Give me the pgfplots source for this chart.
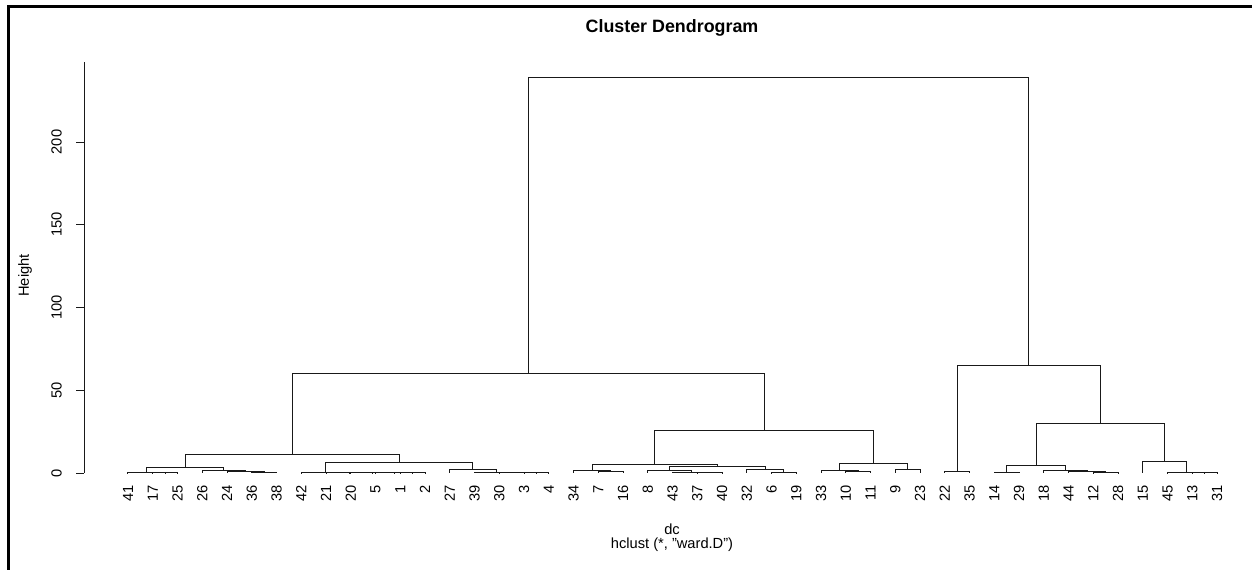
\documentclass[border=0pt]{standalone}
\usepackage{fontspec}
\setmainfont{Liberation Sans}
\usepackage{pgfplots}
\pgfplotsset{compat=1.18}

\tikzset{dend/.style={black!90, line width=0.7pt}}
% one merge: left x, left height, right x, right height, merge height
\newcommand{\merge}[5]{\addplot[dend] coordinates {(#1,#2) (#1,#5) (#3,#5) (#3,#4)};}

\begin{document}
\begin{tikzpicture}
\begin{axis}[
  at={(0,0)}, anchor=south west,
  scale only axis, width=882.15pt, height=308.08pt,
  xmin=-0.76, xmax=46.76, ymin=0, ymax=248.2,
  axis x line*=bottom, axis y line*=left,
  x axis line style={draw=none},
  y axis line style={black!90, line width=0.7pt},
  xtick={1,...,45},
  xticklabels={41,17,25,26,24,36,38,42,21,20,5,1,2,27,39,30,3,4,34,7,16,8,43,37,40,32,6,19,33,10,11,9,23,22,35,14,29,18,44,12,28,15,45,13,31},
  x tick style={draw=none},
  ytick={0,50,100,150,200},
  y tick style={black!90, line width=0.7pt},
  tick align=outside, major tick length=6pt,
  xticklabel style={rotate=90, anchor=east, inner sep=0pt},
  yticklabel style={rotate=90, anchor=south, inner sep=0pt},
  yticklabel shift=10.8pt,
  xticklabel shift=3.3pt,
  tick label style={font=\fontsize{11}{13}\selectfont},
  /pgf/number format/assume math mode=true,
  clip=false,
]
% group 41 ... 38
\merge{2}{0}{3}{0}{0.1}
\merge{1}{0}{2.5}{0.1}{0.3}
\merge{6}{0}{7}{0}{0.4}
\merge{5}{0}{6.5}{0.4}{1.0}
\merge{4}{0}{5.75}{1.0}{1.5}
\merge{1.75}{0.3}{4.875}{1.5}{3.2}
% group 42 ... 4
\merge{12}{0}{13}{0}{0.05}
\merge{11}{0}{12.5}{0.05}{0.1}
\merge{10}{0}{11.75}{0.1}{0.15}
\merge{9}{0}{10.875}{0.15}{0.2}
\merge{8}{0}{9.9375}{0.2}{0.3}
\merge{17}{0}{18}{0}{0.05}
\merge{16}{0}{17.5}{0.05}{0.1}
\merge{15}{0}{16.75}{0.1}{0.4}
\merge{14}{0}{15.875}{0.4}{2.0}
\merge{8.96875}{0.3}{14.9375}{2.0}{6.6}
\merge{3.3125}{3.2}{11.953125}{6.6}{11.0}
% middle group 34 ... 23
\merge{20}{0}{21}{0}{0.9}
\merge{19}{0}{20.5}{0.9}{1.5}
\merge{24}{0}{25}{0}{0.1}
\merge{23}{0}{24.5}{0.1}{0.6}
\merge{22}{0}{23.75}{0.6}{1.5}
\merge{27}{0}{28}{0}{0.3}
\merge{26}{0}{27.5}{0.3}{2.2}
\merge{22.875}{1.5}{26.75}{2.2}{4.2}
\merge{19.75}{1.5}{24.8125}{4.2}{5.2}
\merge{30}{0}{31}{0}{0.9}
\merge{29}{0}{30.5}{0.9}{1.5}
\merge{32}{0}{33}{0}{2.1}
\merge{29.75}{1.5}{32.5}{2.1}{6.0}
\merge{22.28125}{5.2}{31.125}{6.0}{25.4}
\merge{7.6328125}{11.0}{26.703125}{25.4}{60.4}
% right group 22 ... 31
\merge{34}{0}{35}{0}{0.8}
\merge{36}{0}{37}{0}{0.6}
\merge{40}{0}{41}{0}{0.1}
\merge{39}{0}{40.5}{0.1}{0.9}
\merge{38}{0}{39.75}{0.9}{1.4}
\merge{36.5}{0.6}{38.875}{1.4}{4.6}
\merge{44}{0}{45}{0}{0.05}
\merge{43}{0}{44.5}{0.05}{0.1}
\merge{42}{0}{43.75}{0.1}{7.1}
\merge{37.6875}{4.6}{42.875}{7.1}{30.2}
\merge{34.5}{0.8}{40.28125}{30.2}{64.7}
% root
\merge{17.16796875}{60.4}{37.390625}{64.7}{238.7}
\end{axis}

\node[font=\bfseries\fontsize{13.4}{15}\selectfont] at (440.7pt,334.1pt) {Cluster Dendrogram};
\node[font=\fontsize{11}{13}\selectfont] at (440.7pt,-42pt) {dc};
\node[font=\fontsize{11}{13}\selectfont] at (440.7pt,-54pt) {hclust (*, \symbol{34}ward.D\symbol{34})};
\node[font=\fontsize{11}{13}\selectfont, rotate=90] at (-44.55pt,148.1pt) {Height};

\draw[line width=2.2pt] (-56.8pt,-72.75pt) -- (-56.8pt,349.7pt) -- (875.7pt,349.7pt);

\pgfresetboundingbox
\path[use as bounding box] (-63.3pt,-72.75pt) rectangle (875.7pt,354.75pt);
\end{tikzpicture}
\end{document}
